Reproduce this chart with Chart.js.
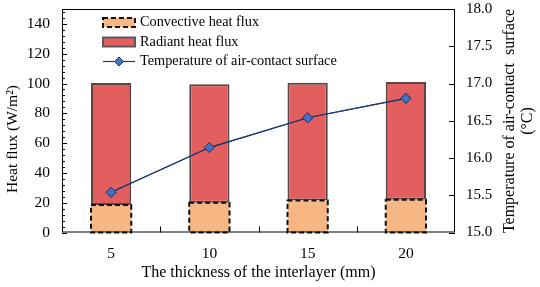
<!DOCTYPE html>
<html><head><meta charset="utf-8">
<script src="https://cdn.jsdelivr.net/npm/chart.js@4"></script>
<style>html,body{margin:0;padding:0;background:#fff}#wrap{width:540px;height:287px}</style>
</head><body><div id="wrap"><canvas id="c" width="540" height="287"></canvas></div>
<script>
const categories = ['5', '10', '15', '20'];
const convective = [18.5, 20, 21.5, 22];
const radiant = [81.8, 79.5, 79, 79];
const temperature = [15.54, 16.14, 16.54, 16.80];
const yTicks = [0, 20, 40, 60, 80, 100, 120, 140];
const seriesLabels = ['Convective heat flux', 'Radiant heat flux', 'Temperature of air-contact surface'];
const xTitle = 'The thickness of the interlayer (mm)';
const yTitle = 'Heat flux (W/m²)';
const y2Title = ['Temperature of air-contact  surface', '(°C)'];

const FONT = '"Liberation Serif", "Times New Roman", serif';

const decor = {
  id: 'decor',
  afterDatasetsDraw(chart) {
    const ctx = chart.ctx;
    const meta = chart.getDatasetMeta(0);
    ctx.save();
    ctx.strokeStyle = '#111';
    ctx.lineWidth = 2;
    ctx.setLineDash([5, 3]);
    meta.data.forEach(b => {
      const p = b.getProps(['x', 'y', 'base', 'width'], true);
      ctx.strokeRect(p.x - p.width / 2, p.y, p.width, p.base - p.y);
    });
    ctx.restore();
    const lm = chart.getDatasetMeta(2);
    if (lm.dataset) lm.dataset.draw(ctx, chart.chartArea);
    lm.data.forEach(pt => pt.draw(ctx, chart.chartArea));
  },
  afterDraw(chart) {
    const ctx = chart.ctx;
    const a = chart.chartArea;
    const y = chart.scales.y, y2 = chart.scales.y2, x = chart.scales.x;
    ctx.save();
    ctx.strokeStyle = '#000';
    ctx.lineWidth = 1;
    ctx.setLineDash([]);
    ctx.strokeRect(a.left + 0.5, a.top + 0.5, a.right - a.left - 1, a.bottom - a.top - 1);
    ctx.beginPath();
    for (let v = 0; v <= 150; v += 4) {
      const py = Math.round(y.getPixelForValue(v)) + 0.5;
      ctx.moveTo(a.left, py); ctx.lineTo(a.left + 3, py);
    }
    yTicks.forEach(v => {
      const py = Math.round(y.getPixelForValue(v)) + 0.5;
      ctx.moveTo(a.left, py); ctx.lineTo(a.left + 5, py);
    });
    for (let v = 15; v <= 18.001; v += 0.5) {
      const py = Math.round(y2.getPixelForValue(v)) + 0.5;
      ctx.moveTo(a.right, py); ctx.lineTo(a.right - 6, py);
    }
    for (let i = 0; i < categories.length - 1; i++) {
      const px = Math.round((x.getPixelForValue(i) + x.getPixelForValue(i + 1)) / 2) + 0.5;
      ctx.moveTo(px, a.bottom); ctx.lineTo(px, a.bottom - 6);
    }
    ctx.stroke();

    ctx.fillStyle = '#000';
    ctx.textAlign = 'center';
    ctx.textBaseline = 'middle';
    ctx.font = '16px ' + FONT;
    ctx.fillText(xTitle, (a.left + a.right) / 2, 273);
    ctx.save();
    ctx.font = '15.5px ' + FONT;
    ctx.translate(13, 139);
    ctx.rotate(-Math.PI / 2);
    ctx.fillText(yTitle, 0, 0);
    ctx.restore();
    ctx.save();
    ctx.font = '16px ' + FONT;
    ctx.translate(510, 121);
    ctx.rotate(-Math.PI / 2);
    ctx.fillText(y2Title[0], 0, 0);
    ctx.fillText(y2Title[1], 0, 18);
    ctx.restore();

    const bx = 103, bw = 32, tx = 140;
    ctx.font = '14.3px ' + FONT;
    ctx.textAlign = 'left';
    ctx.fillStyle = '#F6B784';
    ctx.fillRect(bx, 18, bw, 9);
    ctx.strokeStyle = '#111'; ctx.lineWidth = 2; ctx.setLineDash([5, 3]);
    ctx.strokeRect(bx, 18, bw, 9);
    ctx.setLineDash([]);
    ctx.fillStyle = '#000';
    ctx.fillText(seriesLabels[0], tx, 22.5);
    ctx.fillStyle = '#E35F5F';
    ctx.fillRect(bx, 37.5, bw, 9);
    ctx.strokeStyle = '#5a5a5a'; ctx.lineWidth = 2;
    ctx.strokeRect(bx, 37.5, bw, 9);
    ctx.fillStyle = '#000';
    ctx.fillText(seriesLabels[1], tx, 42);
    ctx.strokeStyle = '#1F3A6E'; ctx.lineWidth = 1.2;
    ctx.beginPath(); ctx.moveTo(bx, 61.5); ctx.lineTo(bx + bw, 61.5); ctx.stroke();
    ctx.beginPath();
    const cx = bx + bw / 2, cy = 61.5, r = 4.5;
    ctx.moveTo(cx, cy - r); ctx.lineTo(cx + r, cy); ctx.lineTo(cx, cy + r); ctx.lineTo(cx - r, cy); ctx.closePath();
    ctx.fillStyle = '#4472C4'; ctx.fill();
    ctx.strokeStyle = '#1F3A6E'; ctx.lineWidth = 1; ctx.stroke();
    ctx.fillStyle = '#000';
    ctx.fillText(seriesLabels[2], tx, 61.5);
    ctx.restore();
  }
};

function noPad(s) { s.paddingTop = 0; s.paddingBottom = 0; }

new Chart(document.getElementById('c'), {
  data: {
    labels: categories,
    datasets: [
      { type: 'bar', label: seriesLabels[0], data: convective, backgroundColor: '#F6B784', borderWidth: 0, yAxisID: 'y', stack: 's', order: 1 },
      { type: 'bar', label: seriesLabels[1], data: radiant, backgroundColor: '#E35F5F', borderColor: '#5a4646', borderWidth: 2, borderSkipped: false, yAxisID: 'y', stack: 's', order: 1 },
      { type: 'line', label: seriesLabels[2], data: temperature, yAxisID: 'y2', borderColor: '#1F3A6E', borderWidth: 1.2,
        pointStyle: 'rectRot', pointRadius: 5, pointBackgroundColor: '#4472C4', pointBorderColor: '#1F3A6E', pointBorderWidth: 1, order: 0, tension: 0 }
    ]
  },
  options: {
    responsive: false,
    animation: false,
    devicePixelRatio: 1,
    layout: { padding: { top: 9, left: 0, right: 0, bottom: 0 } },
    datasets: { bar: { categoryPercentage: 1, barPercentage: 0.41 } },
    plugins: { legend: { display: false }, tooltip: { enabled: false } },
    scales: {
      x: {
        offset: true,
        grid: { display: false, drawTicks: false },
        border: { display: false },
        ticks: { color: '#000', font: { family: FONT, size: 15.5 }, padding: 12, maxRotation: 0 },
        afterFit(s) { s.height = 54.5; }
      },
      y: {
        stacked: true, min: 0, max: 150, position: 'left',
        grid: { display: false, drawTicks: false },
        border: { display: false },
        ticks: { color: '#000', font: { family: FONT, size: 15.5 }, padding: 12 },
        afterBuildTicks(s) { s.ticks = yTicks.map(v => ({ value: v })); },
        afterFit(s) { s.width = 62; noPad(s); }
      },
      y2: {
        min: 15, max: 18, position: 'right',
        grid: { display: false, drawTicks: false },
        border: { display: false },
        ticks: { stepSize: 0.5, color: '#000', font: { family: FONT, size: 15 }, padding: 11,
          callback: v => Number(v).toFixed(1) },
        afterFit(s) { s.width = 85; noPad(s); }
      }
    }
  },
  plugins: [decor]
});
</script>
</body></html>
